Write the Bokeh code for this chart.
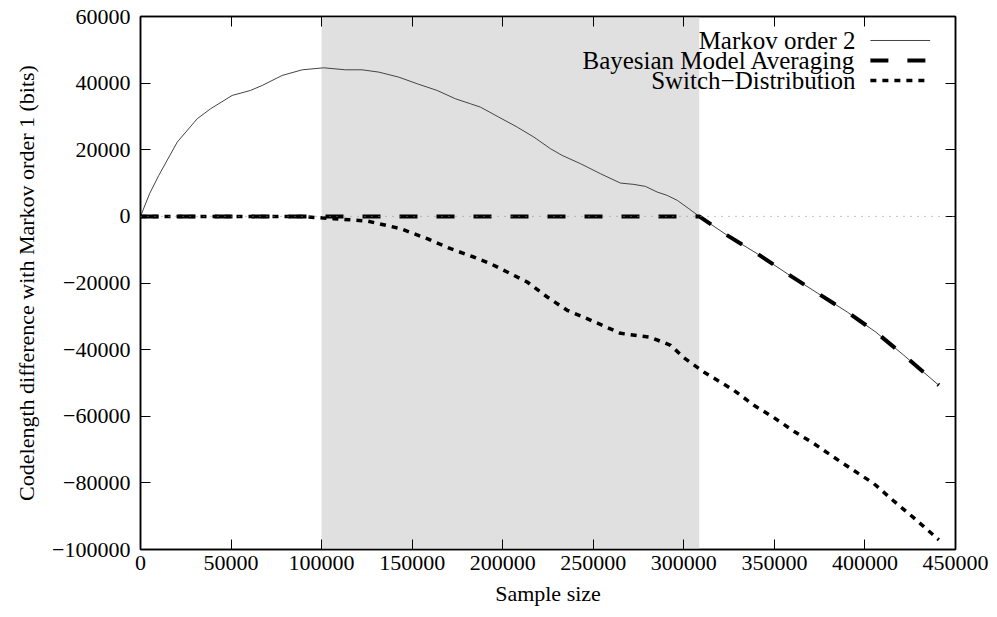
from bokeh.plotting import figure
from bokeh.models import (BoxAnnotation, Span, LinearAxis, CustomJSTickFormatter,
                          Range1d, FixedTicker, CustomLabelingPolicy)
from bokeh.core.properties import value
from bokeh.embed import file_html
from bokeh.resources import INLINE

# ---------------- data ----------------
markov_x = [0, 5000, 10100, 20300, 31300, 38700, 50600, 60700, 67200, 78200, 89300,
            101200, 113200, 122400, 131600, 142600, 152800, 163800, 173900, 182200,
            187700, 197800, 208000, 217200, 226400, 232800, 243000, 254000, 265000,
            272400, 278800, 285300, 290800, 296400, 302800, 308500, 324000, 340500,
            357100, 373700, 390200, 405900, 421500, 440800]
markov_y = [0, 6800, 12300, 22300, 29300, 32300, 36300, 37800, 39300, 42300, 44000,
            44600, 44000, 44000, 43300, 41800, 39800, 37800, 35300, 33800,
            32800, 29800, 26800, 23800, 20300, 18300, 15800, 12800, 10000,
            9600, 9000, 7300, 6300, 4800, 2300, 0, -5700, -11200,
            -17200, -23000, -28700, -34700, -41700, -50700]

bma_x = [0, 308500, 324000, 340500, 357100, 373700, 390200, 405900, 421500, 440800]
bma_y = [0, 0, -5700, -11200, -17200, -23000, -28700, -34700, -41700, -50700]

switch_x = [0, 88000, 106700, 125200, 143600, 158300, 171200, 184000, 193300, 202500,
            213500, 224600, 235600, 246600, 265000, 281600, 292700, 300000, 311000,
            327600, 338700, 349700, 360700, 371800, 382800, 393900, 404900, 416000,
            427000, 440800]
switch_y = [0, 0, -700, -1400, -3700, -6700, -9700, -12200, -14200, -16700,
            -19700, -24200, -28200, -30700, -35100, -36300, -38700, -42400, -46700,
            -52200, -56700, -60400, -64500, -68200, -72300, -76300, -80200, -85500,
            -90500, -97100]

band_start, band_end = 100000, 308500
x_ticks = [0, 50000, 100000, 150000, 200000, 250000, 300000, 350000, 400000, 450000]
y_ticks = [-100000, -80000, -60000, -40000, -20000, 0, 20000, 40000, 60000]
legend_labels = ["Markov order 2", "Bayesian Model Averaging", "Switch\u2212Distribution"]

# legend placement (layout, in data units)
leg_text_x = 394800
leg_line_x = [403000, 436000]
leg_y = [52800, 46800, 40800]

FONT = "Liberation Serif"
FS = "22px"
LEG_FS = "25px"

p = figure(width=997, height=617, output_backend="svg", toolbar_location=None,
           x_range=Range1d(0, 450000), y_range=Range1d(-100000, 60000),
           min_border_left=140, min_border_right=42, min_border_top=16,
           min_border_bottom=68, background_fill_color="white",
           border_fill_color="white")
p.styles = {"font-family": "'Liberation Serif', serif"}
p.grid.visible = False
p.outline_line_color = "black"
p.outline_line_width = 1.5

fmt = CustomJSTickFormatter(code="return tick < 0 ? '\u2212' + Math.abs(tick).toString() : tick.toString();")

xa = p.xaxis[0]
ya = p.yaxis[0]
for ax in (xa, ya):
    ax.formatter = fmt
    ax.major_tick_in = 10
    ax.major_tick_out = 0
    ax.minor_tick_line_color = None
    ax.axis_line_color = "black"
    ax.axis_line_width = 1.5
    ax.major_tick_line_color = "black"
    ax.major_tick_line_width = 1
    ax.major_label_text_font = FONT
    ax.major_label_text_font_size = FS
    ax.major_label_text_color = "black"
    ax.axis_label_text_font = FONT
    ax.axis_label_text_font_size = FS
    ax.axis_label_text_font_style = "normal"
    ax.axis_label_text_color = "black"

xa.ticker = FixedTicker(ticks=x_ticks)
ya.ticker = FixedTicker(ticks=y_ticks)
xa.axis_label = "Sample size"
ya.axis_label = "Codelength difference with Markov order 1 (bits)"
xa.major_label_standoff = 6
xa.axis_label_standoff = 8
ya.major_label_standoff = 10
ya.axis_label_standoff = 10

# mirrored ticks on top and right (no labels)
for loc, ticks in (("above", x_ticks), ("right", y_ticks)):
    ax = LinearAxis(ticker=FixedTicker(ticks=ticks), major_tick_in=10, major_tick_out=0,
                    minor_tick_line_color=None, axis_line_color="black",
                    axis_line_width=1.5, major_label_text_font_size="0px",
                    major_label_standoff=0,
                    major_label_policy=CustomLabelingPolicy(code="return [];"))
    p.add_layout(ax, loc)

# shaded region
p.add_layout(BoxAnnotation(left=band_start, right=band_end, fill_color="#e0e0e0",
                           fill_alpha=1.0, line_color=None, level="underlay"))
# zero axis
p.add_layout(Span(location=0, dimension="width", line_color="#888888",
                  line_width=1, line_dash="1 6"))

p.line(markov_x, markov_y, line_color="#444444", line_width=1)
p.line(bma_x, bma_y, line_color="black", line_width=4, line_dash="18 19")
p.line(switch_x, switch_y, line_color="black", line_width=3.5, line_dash="6 6")

# legend (gnuplot style: text right-aligned, sample to the right)
p.text(x=[leg_text_x] * 3, y=leg_y, text=legend_labels, text_align="right",
       text_baseline="middle", text_font=value(FONT), text_font_size=LEG_FS,
       text_color="black")
p.line(leg_line_x, [leg_y[0]] * 2, line_color="#444444", line_width=1)
p.line(leg_line_x, [leg_y[1]] * 2, line_color="black", line_width=4, line_dash="18 19")
p.line(leg_line_x, [leg_y[2]] * 2, line_color="black", line_width=3.5, line_dash="6 6")

open("out.html", "w").write(file_html(p, INLINE))
